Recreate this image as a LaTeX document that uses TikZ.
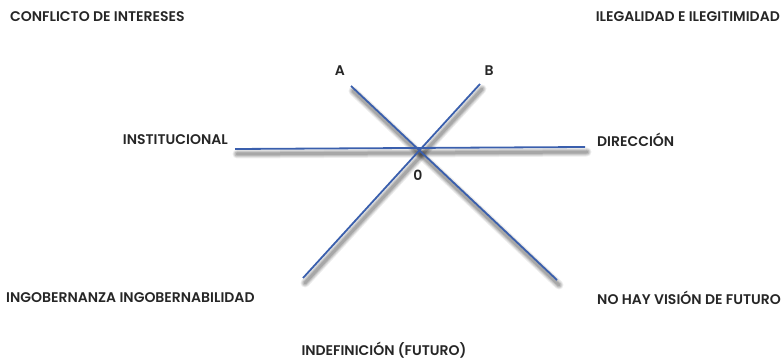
\documentclass[tikz,border=0pt]{standalone}
\usepackage{fontspec}
\setmainfont{Poppins}[BoldFont={Poppins SemiBold}]
\definecolor{axisblue}{HTML}{3A5FAD}

\begin{document}
\begin{tikzpicture}[x=1pt, y=1pt, font=\bfseries\fontsize{14}{16}\selectfont, text=black!85]
	\tikzstyle{axis}=[draw=axisblue, line width=1.8pt]
	\tikzstyle{shade}=[draw=black, line cap=round]
	\tikzstyle{tag}=[inner sep=0pt]
	\useasboundingbox (0,0) rectangle (783,361);

	% end points of the three lines
	\coordinate (a1) at (351,275);
	\coordinate (a2) at (557,81);
	\coordinate (b1) at (480,277);
	\coordinate (b2) at (303,83);
	\coordinate (h1) at (235,212);
	\coordinate (h2) at (585,214);

	% blurred shadow under the lines
	\foreach \w/\o in {9/0.07, 7/0.09, 5/0.11, 3/0.13}{
		\draw[shade, line width=\w pt, opacity=\o] ([shift={(2,-5)}]a1) -- ([shift={(2,-5)}]a2);
		\draw[shade, line width=\w pt, opacity=\o] ([shift={(2,-5)}]b1) -- ([shift={(2,-5)}]b2);
		\draw[shade, line width=\w pt, opacity=\o] ([shift={(2,-5)}]h1) -- ([shift={(2,-5)}]h2);
	}

	\draw[axis] (a1) -- (a2);
	\draw[axis] (b1) -- (b2);
	\draw[axis] (h1) -- (h2);

	\node[tag, anchor=west] (conflicto) at (10,344) {CONFLICTO DE INTERESES};
	\node[tag, anchor=east] (ilegal) at (780,344) {ILEGALIDAD E ILEGITIMIDAD};
	\node[tag] (A) at (340,290) {A};
	\node[tag] (B) at (489,290) {B};
	\node[tag, anchor=east] (inst) at (228,221) {INSTITUCIONAL};
	\node[tag, anchor=west] (dir) at (597,221) {DIRECCIÓN};
	\node[tag] (zero) at (418,186) {0};
	\node[tag, anchor=west] (ingob) at (6,63) {INGOBERNANZA INGOBERNABILIDAD};
	\node[tag, anchor=east] (vision) at (781,63) {NO HAY VISIÓN DE FUTURO};
	\node[tag] (indef) at (384,11) {INDEFINICIÓN (FUTURO)};
\end{tikzpicture}
\end{document}
